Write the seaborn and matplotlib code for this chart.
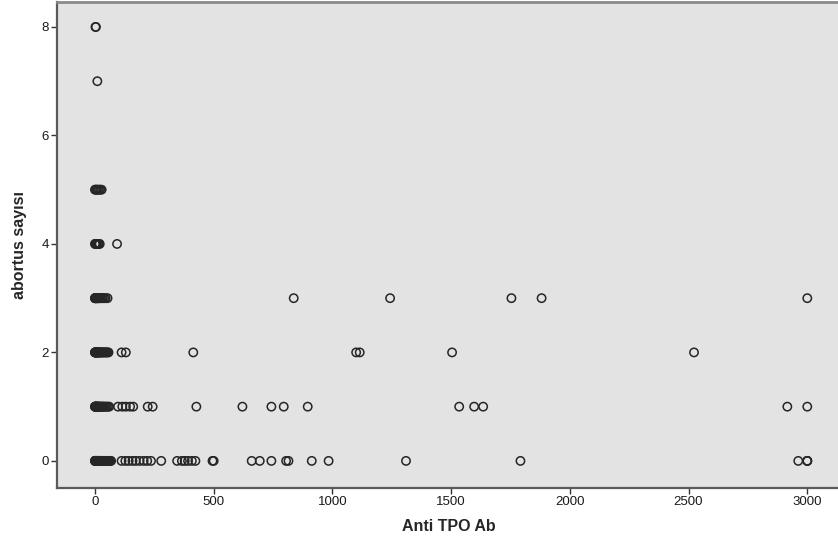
import matplotlib
matplotlib.use("Agg")
import matplotlib.pyplot as plt
import seaborn as sns
import pandas as pd

# Anti TPO antibody level for each patient, grouped by number of abortions
tpo_ab_0 = [0, 0.5, 1, 1.5, 2, 2.5, 3, 4, 5, 6, 7, 8, 9, 10, 11, 12, 14, 15, 17, 18, 20, 22, 24,
            26, 28, 30, 33, 35, 38, 40, 43, 45, 48, 52, 56, 60, 64, 68,
            112, 128, 142, 158, 172, 188, 205, 220, 236,
            279, 346, 366, 378, 392, 408, 423,
            495, 500, 660, 694, 743, 805, 815, 913, 984, 1310, 1792, 2962, 3000, 3000, 3000]
tpo_ab_1 = [0, 0.5, 1, 2, 3, 4, 5, 6, 8, 9, 11, 13, 15, 17, 20, 23, 26, 30, 33, 36, 40, 45, 50,
            55, 60, 97, 115, 130, 148, 161, 222, 243,
            427, 621, 743, 795, 896, 1534, 1597, 1635, 2916, 3000]
tpo_ab_2 = [0, 0.5, 1, 2, 3, 4, 5, 6, 8, 9, 12, 14, 16, 18, 20, 23, 26, 29, 32, 36, 40, 44, 48,
            52, 57, 112, 130, 414, 1100, 1115, 1504, 2523]
tpo_ab_3 = [0, 0.5, 1, 2, 3, 4, 5, 6, 7, 8, 10, 12, 14, 16, 18, 21, 25, 29, 33, 39, 45, 53,
            837, 1243, 1754, 1881, 3000]
tpo_ab_4 = [0, 2, 5, 8, 12, 16, 20, 93]
tpo_ab_5 = [0, 3, 7, 12, 17, 22, 28]
tpo_ab_7 = [10]
tpo_ab_8 = [2, 4]

groups = {0: tpo_ab_0, 1: tpo_ab_1, 2: tpo_ab_2, 3: tpo_ab_3,
          4: tpo_ab_4, 5: tpo_ab_5, 7: tpo_ab_7, 8: tpo_ab_8}

x_ticks = [0, 500, 1000, 1500, 2000, 2500, 3000]
y_ticks = [0, 2, 4, 6, 8]

rows = [(v, k) for k, vals in groups.items() for v in vals]
df = pd.DataFrame(rows, columns=["Anti TPO Ab", "abortus sayısı"])

sns.set_style("white")
plt.rcParams["font.family"] = ["Liberation Sans Narrow", "Liberation Sans", "DejaVu Sans"]

fig = plt.figure(figsize=(8.38, 5.42), dpi=100)
ax = fig.add_axes([0.068, 0.0996, 0.935, 0.8967])
ax.set_facecolor("#e3e3e3")

sns.scatterplot(data=df, x="Anti TPO Ab", y="abortus sayısı", ax=ax,
                marker="o", s=36, facecolor="none", edgecolor="#262626",
                linewidth=1.1, legend=False)

ax.set_xlim(-160, 3140)
ax.set_ylim(-0.5, 8.46)
ax.set_xticks(x_ticks)
ax.set_yticks(y_ticks)
ax.set_xticklabels([str(t) for t in x_ticks], fontsize=9.5)
ax.set_yticklabels([str(t) for t in y_ticks], fontsize=9.5)
ax.tick_params(axis="both", direction="out", length=4, width=1, color="#333333",
               labelcolor="#1a1a1a", pad=2, left=True, bottom=True)

for side in ["left", "bottom"]:
    ax.spines[side].set_color("#5a5a5a")
    ax.spines[side].set_linewidth(1.6)
ax.spines["top"].set_color("#8a8a8a")
ax.spines["top"].set_linewidth(2.0)
ax.spines["right"].set_visible(False)

ax.set_xlabel("Anti TPO Ab", fontsize=11.5, fontweight="bold",
              family=["Liberation Sans", "DejaVu Sans"], labelpad=8)
ax.set_ylabel("abortus sayısı", fontsize=11.5, fontweight="bold", labelpad=10)

fig.savefig("out.png", dpi=100, facecolor="white")
